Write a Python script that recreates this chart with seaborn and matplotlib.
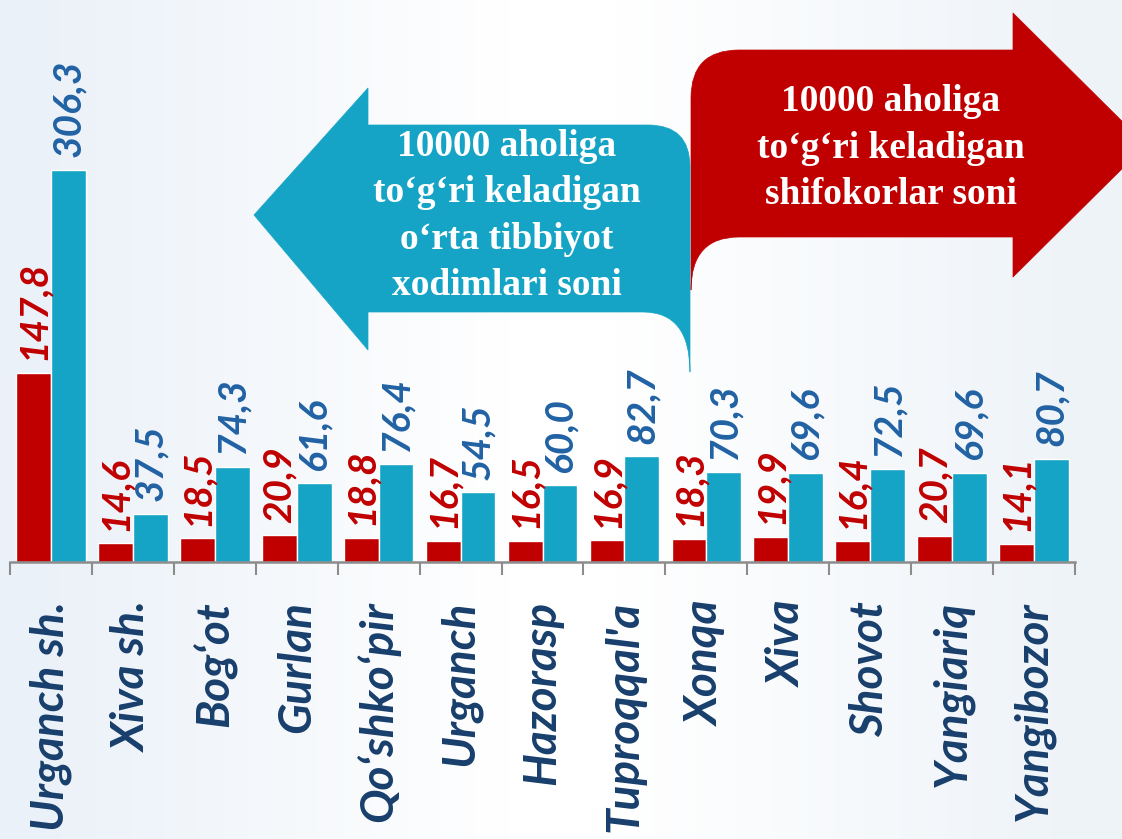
"""
Xorazm viloyati: 10000 aholiga to'g'ri keladigan shifokorlar va
o'rta tibbiyot xodimlari soni - bar chart with two arrow callouts.
"""

import numpy as np
import pandas as pd
import matplotlib
matplotlib.use('Agg')
import matplotlib.pyplot as plt
from matplotlib.path import Path
from matplotlib.patches import PathPatch
import seaborn as sns

# Data
districts = ['Urganch sh.', 'Xiva sh.', 'Bog‘ot', 'Gurlan', 'Qo‘shko‘pir',
             'Urganch', 'Hazorasp', "Tuproqqal'a", 'Xonqa', 'Xiva',
             'Shovot', 'Yangiariq', 'Yangibozor']
doctors = [147.8, 14.6, 18.5, 20.9, 18.8, 16.7, 16.5, 16.9, 18.3, 19.9, 16.4, 20.7, 14.1]
nurses = [306.3, 37.5, 74.3, 61.6, 76.4, 54.5, 60.0, 82.7, 70.3, 69.6, 72.5, 69.6, 80.7]
series_names = ['shifokorlar', "o'rta tibbiyot xodimlari"]

RED = '#c00000'
BLUE = '#16a4c6'
RED_TXT = '#c00000'
BLUE_TXT = '#2162a4'
NAVY = '#183f6c'
GREY = '#8c8c8c'

W, H = 1122, 839

sns.set_theme(style='white')
plt.rcParams['font.family'] = ['Lato', 'DejaVu Sans']


def build_frame() -> pd.DataFrame:
    df = pd.DataFrame({
        'district': districts * 2,
        'value': doctors + nurses,
        'series': [series_names[0]] * len(districts) + [series_names[1]] * len(districts),
    })
    return df


def fmt(v):
    return f"{v:.1f}".replace('.', ',')


def draw_background(fig):
    bg = fig.add_axes([0, 0, 1, 1], zorder=0)
    left = np.array([0.925, 0.948, 0.975])
    mid = np.array([1.0, 1.0, 1.0])
    right = np.array([0.935, 0.955, 0.975])
    t = np.linspace(0, 1, 300)[:, None]
    w_mid = np.clip(1 - np.abs(t - 0.5) * 2.2, 0, 1)
    w_left = np.clip(1 - t * 2.2, 0, 1)
    w_right = np.clip((t - 0.55) * 2.2, 0, 1)
    tot = w_mid + w_left + w_right
    row = (w_left * left + w_mid * mid + w_right * right) / tot
    grad = np.repeat(row[None, :, :], 10, axis=0)
    bg.imshow(grad, aspect='auto', extent=[0, 1, 0, 1])
    bg.set_axis_off()


def draw_arrows(fig):
    ov = fig.add_axes([0, 0, 1, 1], zorder=3)
    ov.set_xlim(0, W)
    ov.set_ylim(H, 0)
    ov.set_axis_off()
    ov.patch.set_alpha(0)

    # red bent arrow pointing right (partly off the page)
    red_verts = [(691, 290), (691, 98), (691, 50), (739, 50), (1013, 50),
                 (1013, 13), (1146, 145), (1013, 277), (1013, 237),
                 (739, 237), (691, 237), (691, 290), (691, 290)]
    red_codes = [Path.MOVETO, Path.LINETO, Path.CURVE3, Path.CURVE3, Path.LINETO,
                 Path.LINETO, Path.LINETO, Path.LINETO, Path.LINETO,
                 Path.LINETO, Path.CURVE3, Path.CURVE3, Path.CLOSEPOLY]
    ov.add_patch(PathPatch(Path(red_verts, red_codes), facecolor=RED,
                           edgecolor=RED, lw=0.5, joinstyle='round'))

    # blue bent arrow pointing left
    blue_verts = [(368, 125), (648, 125), (690, 125), (690, 167), (690, 372),
                  (690, 312), (643, 312), (368, 312), (368, 350),
                  (254, 215), (368, 88), (368, 125), (368, 125)]
    blue_codes = [Path.MOVETO, Path.LINETO, Path.CURVE3, Path.CURVE3, Path.LINETO,
                  Path.CURVE3, Path.CURVE3, Path.LINETO, Path.LINETO,
                  Path.LINETO, Path.LINETO, Path.LINETO, Path.CLOSEPOLY]
    ov.add_patch(PathPatch(Path(blue_verts, blue_codes), facecolor=BLUE,
                           edgecolor=BLUE, lw=0.5, joinstyle='round'))

    serif = ['Liberation Serif', 'DejaVu Serif']
    ov.text(891, 148, "10000 aholiga\nto‘g‘ri keladigan\nshifokorlar soni",
            ha='center', va='center', color='white', fontsize=27,
            fontweight='bold', family=serif, linespacing=1.42)
    ov.text(507, 216, "10000 aholiga\nto‘g‘ri keladigan\no‘rta tibbiyot\nxodimlari soni",
            ha='center', va='center', color='white', fontsize=27,
            fontweight='bold', family=serif, linespacing=1.42)


def create_chart(df: pd.DataFrame):
    fig = plt.figure(figsize=(W / 100, H / 100), dpi=100)
    draw_background(fig)

    ax = fig.add_axes([10 / W, 1 - 562 / H, 1065 / W, 562 / H], zorder=1)
    ax.patch.set_alpha(0)
    sns.barplot(data=df, x='district', y='value', hue='series',
                palette=[RED, BLUE], width=0.85, gap=0, saturation=1,
                legend=False, ax=ax)

    # value labels, rotated like in the original
    for cont, vals, col in zip(ax.containers, [doctors, nurses], [RED_TXT, BLUE_TXT]):
        ax.bar_label(cont, labels=[fmt(v) for v in vals], rotation=90,
                     padding=9, color=col, fontsize=28, fontweight='bold',
                     fontstyle='italic')

    ax.set_xlim(-0.5, len(districts) - 0.5)
    ax.set_ylim(0, 439)
    ax.set_xlabel('')
    ax.set_ylabel('')
    ax.set_yticks([])

    ax.set_xticks(np.arange(-0.5, len(districts), 1), minor=True)
    ax.tick_params(axis='x', which='major', length=0, pad=28)
    ax.tick_params(axis='x', which='minor', bottom=True, length=9.5,
                   width=1.5, color=GREY)
    for lbl in ax.get_xticklabels():
        lbl.set_rotation(90)
        lbl.set_va('top')
        lbl.set_ha('center')
        lbl.set_fontsize(33)
        lbl.set_fontweight('bold')
        lbl.set_fontstyle('italic')
        lbl.set_color(NAVY)

    for side in ['left', 'right', 'top']:
        ax.spines[side].set_visible(False)
    ax.spines['bottom'].set_color(GREY)
    ax.spines['bottom'].set_linewidth(1.8)

    draw_arrows(fig)

    fig.savefig('out.png', dpi=100)
    plt.close(fig)


def main():
    df = build_frame()
    create_chart(df)


if __name__ == "__main__":
    main()
